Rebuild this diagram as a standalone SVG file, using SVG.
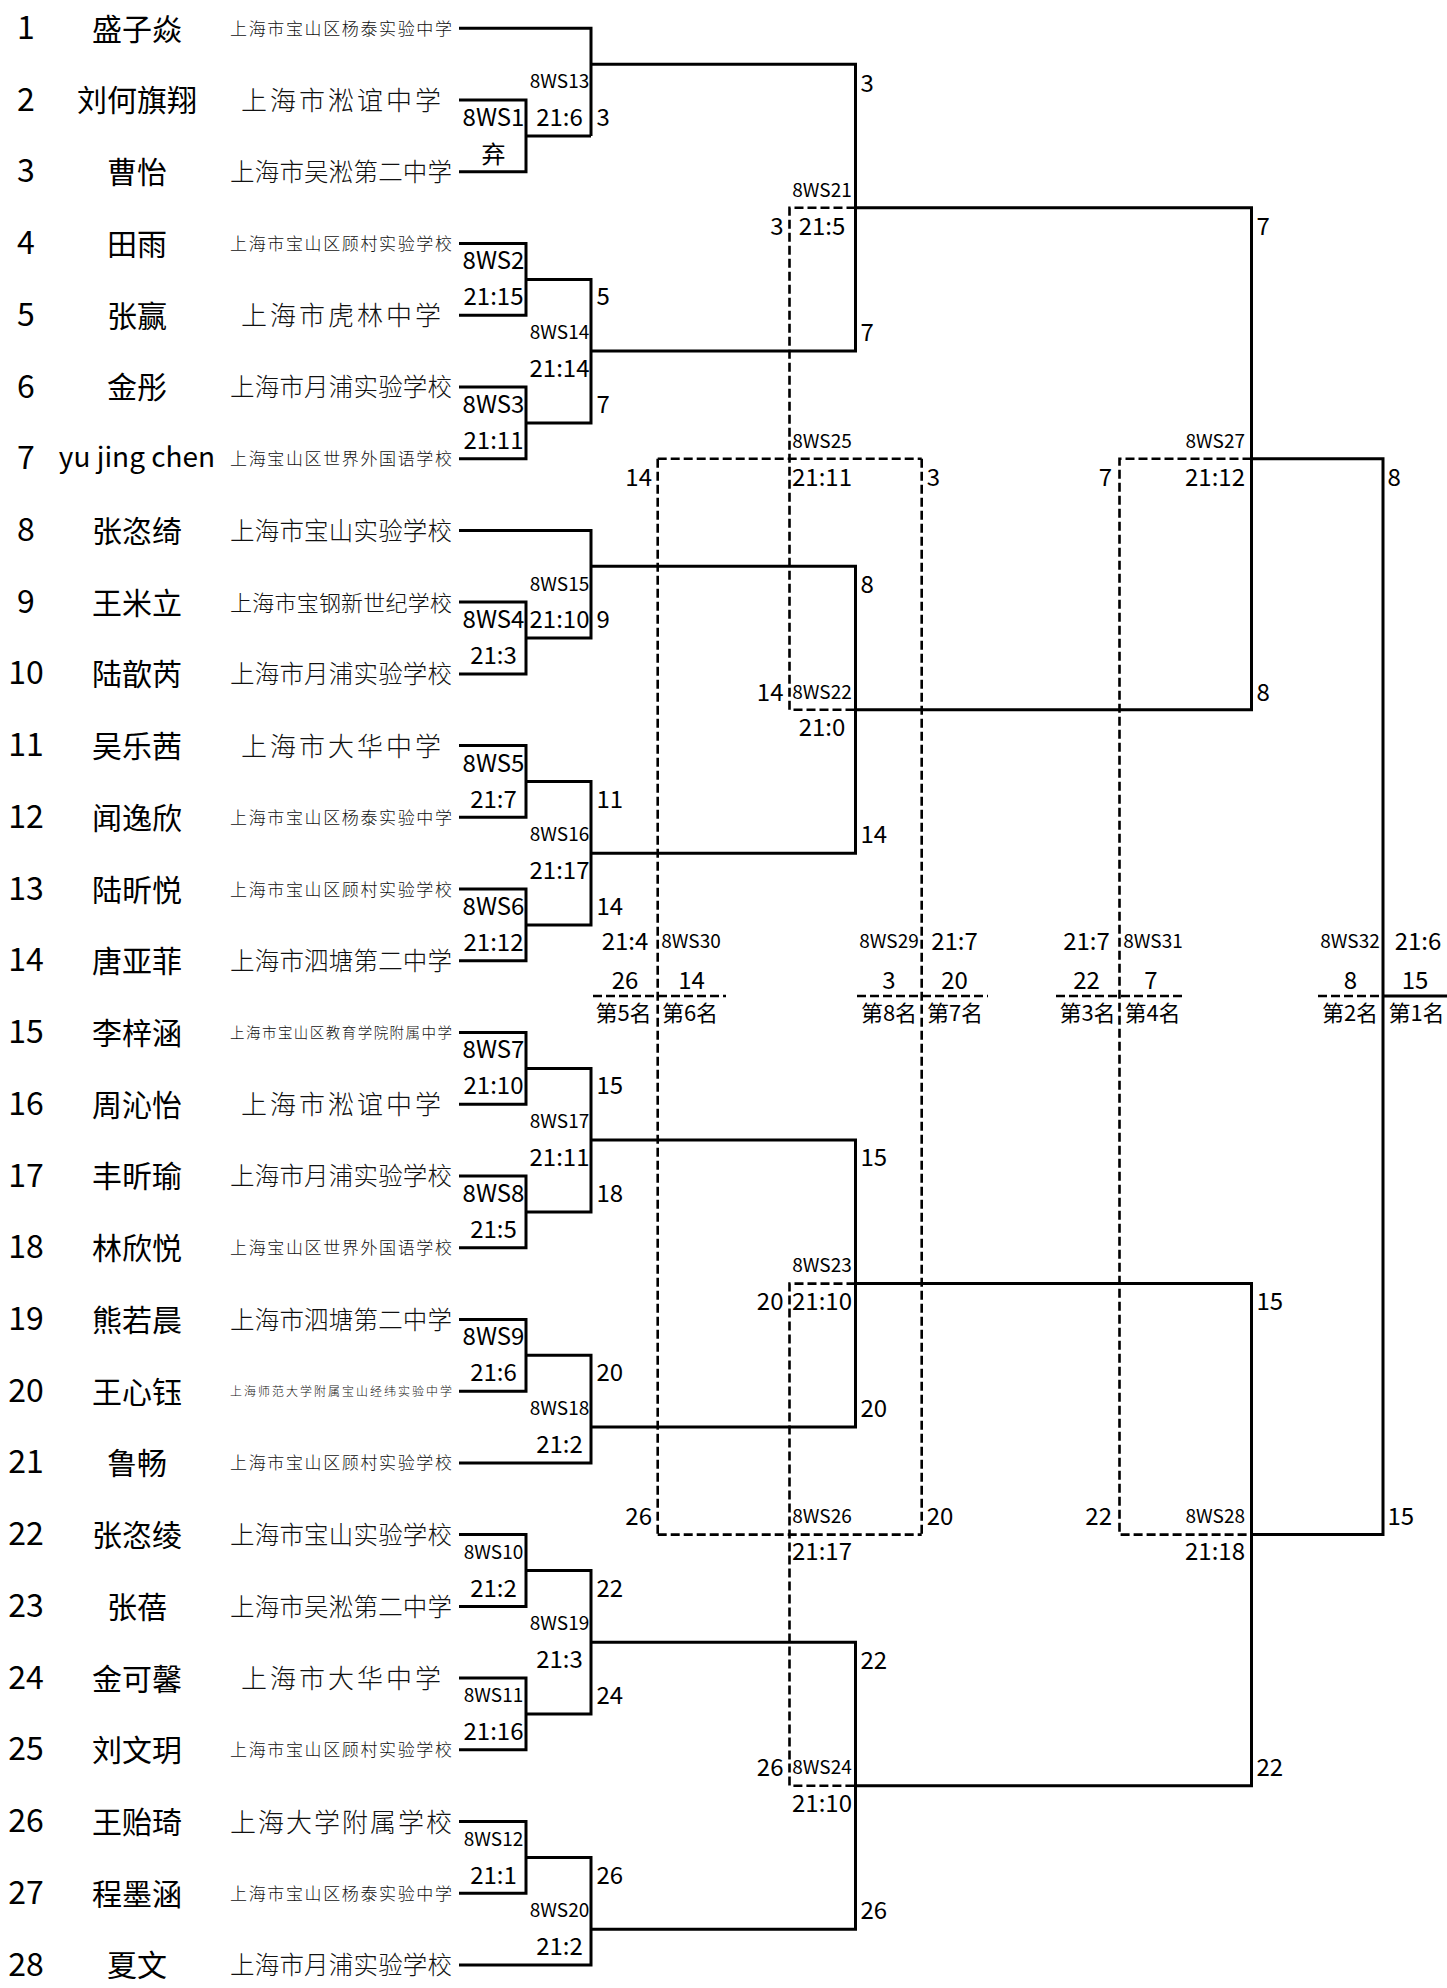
<svg xmlns="http://www.w3.org/2000/svg" width="1447" height="1988" viewBox="0 0 1447 1988">
<style>
text{font-family:"Noto Sans CJK SC","Noto Sans",sans-serif;fill:#000}
.idx{font-size:32px;text-anchor:middle}
.nm{font-size:30px;text-anchor:middle}
.lat{font-size:28px}
.s7,.s8,.s9,.s10,.s12,.s14,.s16{font-weight:300;fill:#111}
.s7{font-size:26px}.s8{font-size:26px}.s9{font-size:24.5px}.s10{font-size:22px}.s12{font-size:17px}.s14{font-size:14.5px}.s16{font-size:12px}
.lab{font-size:24px;text-anchor:middle}
.sm{font-size:19px;text-anchor:middle}
.sme{font-size:19px;text-anchor:end}
.le{font-size:24px;text-anchor:end}
.ws{font-size:24px;text-anchor:start}
.pl{font-size:22px;text-anchor:middle}
.ln{fill:none;stroke:#000;stroke-width:3}
.dl{fill:none;stroke:#000;stroke-width:2.6;stroke-dasharray:9 4}
</style>
<rect width="1447" height="1988" fill="#fff"/>
<g id="connectors">
<path class="ln" d="M459 28.3H591V135.9M459 100H526V171.8H459M526 135.9H591M591 64.2H855.5V351.1H591M459 243.5H526V315.2H459M526 279.4H591V422.9H526M459 387H526V458.7H459M855.5 207.7H1251.5V709.7H855.5"/>
<path class="ln" d="M459 530.4H591V638H526M459 602.1H526V673.9H459M591 566.3H855.5V853.2H591M459 745.6H526V817.3H459M526 781.5H591V925H526M459 889.1H526V960.8H459M1251.5 458.7H1383V1534.6H1251.5M1383 996H1447"/>
<path class="ln" d="M459 1032.5H526V1104.3H459M526 1068.4H591V1211.9H526M459 1176H526V1247.7H459M591 1140.1H855.5V1427H591M459 1319.4H526V1391.2H459M526 1355.3H591V1462.9H459M855.5 1283.6H1251.5V1785.7H855.5"/>
<path class="ln" d="M459 1534.6H526V1606.4H459M526 1570.5H591V1714H526M459 1678.1H526V1749.8H459M591 1642.2H855.5V1929.2H591M459 1821.6H526V1893.3H459M526 1857.5H591V1965H459"/>
<path class="dl" d="M855.5 207.7H789.5V709.7H855.5M855.5 1283.6H789.5V1785.7H855.5"/>
<path class="dl" d="M657.7 458.7H921.7M657.7 1534.6H921.7M657.7 458.7V1534.6M921.7 458.7V1534.6"/>
<path class="dl" d="M1251.5 458.7H1119.5V1534.6H1251.5"/>
<path class="dl" d="M593 996H726M857 996H988M1056 996H1186M1318 996H1383"/>
</g>
<g id="players">
<g id="p1"><text class="idx" x="26" y="38.8">1</text><text class="nm" x="137" y="39.7">盛子焱</text><text class="s12" x="230" y="34.8" textLength="222">上海市宝山区杨泰实验中学</text></g>
<g id="p2"><text class="idx" x="26" y="110.5">2</text><text class="nm" x="137" y="111.4">刘何旗翔</text><text class="s7" x="241" y="109.9" textLength="200">上海市淞谊中学</text></g>
<g id="p3"><text class="idx" x="26" y="182.3">3</text><text class="nm" x="137" y="183.2">曹怡</text><text class="s9" x="230" y="181.1" textLength="222">上海市吴淞第二中学</text></g>
<g id="p4"><text class="idx" x="26" y="254">4</text><text class="nm" x="137" y="254.9">田雨</text><text class="s12" x="230" y="250" textLength="222">上海市宝山区顾村实验学校</text></g>
<g id="p5"><text class="idx" x="26" y="325.7">5</text><text class="nm" x="137" y="326.6">张赢</text><text class="s7" x="241" y="325.1" textLength="200">上海市虎林中学</text></g>
<g id="p6"><text class="idx" x="26" y="397.5">6</text><text class="nm" x="137" y="398.4">金彤</text><text class="s9" x="230" y="396.3" textLength="222">上海市月浦实验学校</text></g>
<g id="p7"><text class="idx" x="26" y="469.2">7</text><text class="nm lat" x="137" y="466.5">yu jing chen</text><text class="s12" x="230" y="465.2" textLength="222">上海宝山区世界外国语学校</text></g>
<g id="p8"><text class="idx" x="26" y="540.9">8</text><text class="nm" x="137" y="541.8">张恣绮</text><text class="s9" x="230" y="539.7" textLength="222">上海市宝山实验学校</text></g>
<g id="p9"><text class="idx" x="26" y="612.6">9</text><text class="nm" x="137" y="613.5">王米立</text><text class="s10" x="230" y="610.5" textLength="222">上海市宝钢新世纪学校</text></g>
<g id="p10"><text class="idx" x="26" y="684.4">10</text><text class="nm" x="137" y="685.3">陆歆芮</text><text class="s9" x="230" y="683.2" textLength="222">上海市月浦实验学校</text></g>
<g id="p11"><text class="idx" x="26" y="756.1">11</text><text class="nm" x="137" y="757">吴乐茜</text><text class="s7" x="241" y="755.5" textLength="200">上海市大华中学</text></g>
<g id="p12"><text class="idx" x="26" y="827.8">12</text><text class="nm" x="137" y="828.7">闻逸欣</text><text class="s12" x="230" y="823.8" textLength="222">上海市宝山区杨泰实验中学</text></g>
<g id="p13"><text class="idx" x="26" y="899.6">13</text><text class="nm" x="137" y="900.5">陆昕悦</text><text class="s12" x="230" y="895.6" textLength="222">上海市宝山区顾村实验学校</text></g>
<g id="p14"><text class="idx" x="26" y="971.3">14</text><text class="nm" x="137" y="972.2">唐亚菲</text><text class="s9" x="230" y="970.1" textLength="222">上海市泗塘第二中学</text></g>
<g id="p15"><text class="idx" x="26" y="1043">15</text><text class="nm" x="137" y="1043.9">李梓涵</text><text class="s14" x="230" y="1038" textLength="222">上海市宝山区教育学院附属中学</text></g>
<g id="p16"><text class="idx" x="26" y="1114.8">16</text><text class="nm" x="137" y="1115.7">周沁怡</text><text class="s7" x="241" y="1114.2" textLength="200">上海市淞谊中学</text></g>
<g id="p17"><text class="idx" x="26" y="1186.5">17</text><text class="nm" x="137" y="1187.4">丰昕瑜</text><text class="s9" x="230" y="1185.3" textLength="222">上海市月浦实验学校</text></g>
<g id="p18"><text class="idx" x="26" y="1258.2">18</text><text class="nm" x="137" y="1259.1">林欣悦</text><text class="s12" x="230" y="1254.2" textLength="222">上海宝山区世界外国语学校</text></g>
<g id="p19"><text class="idx" x="26" y="1329.9">19</text><text class="nm" x="137" y="1330.8">熊若晨</text><text class="s9" x="230" y="1328.7" textLength="222">上海市泗塘第二中学</text></g>
<g id="p20"><text class="idx" x="26" y="1401.7">20</text><text class="nm" x="137" y="1402.6">王心钰</text><text class="s16" x="230" y="1395.8" textLength="222">上海师范大学附属宝山经纬实验中学</text></g>
<g id="p21"><text class="idx" x="26" y="1473.4">21</text><text class="nm" x="137" y="1474.3">鲁畅</text><text class="s12" x="230" y="1469.4" textLength="222">上海市宝山区顾村实验学校</text></g>
<g id="p22"><text class="idx" x="26" y="1545.1">22</text><text class="nm" x="137" y="1546">张恣绫</text><text class="s9" x="230" y="1543.9" textLength="222">上海市宝山实验学校</text></g>
<g id="p23"><text class="idx" x="26" y="1616.9">23</text><text class="nm" x="137" y="1617.8">张蓓</text><text class="s9" x="230" y="1615.7" textLength="222">上海市吴淞第二中学</text></g>
<g id="p24"><text class="idx" x="26" y="1688.6">24</text><text class="nm" x="137" y="1689.5">金可馨</text><text class="s7" x="241" y="1688" textLength="200">上海市大华中学</text></g>
<g id="p25"><text class="idx" x="26" y="1760.3">25</text><text class="nm" x="137" y="1761.2">刘文玥</text><text class="s12" x="230" y="1756.3" textLength="222">上海市宝山区顾村实验学校</text></g>
<g id="p26"><text class="idx" x="26" y="1832.1">26</text><text class="nm" x="137" y="1833">王贻琦</text><text class="s8" x="230" y="1831.5" textLength="222">上海大学附属学校</text></g>
<g id="p27"><text class="idx" x="26" y="1903.8">27</text><text class="nm" x="137" y="1904.7">程墨涵</text><text class="s12" x="230" y="1899.8" textLength="222">上海市宝山区杨泰实验中学</text></g>
<g id="p28"><text class="idx" x="26" y="1975.5">28</text><text class="nm" x="137" y="1976.4">夏文</text><text class="s9" x="230" y="1974.3" textLength="222">上海市月浦实验学校</text></g>
</g>
<g id="matches-r1">
<g id="m1"><text class="lab" x="493.5" y="125.9">8WS1</text><text class="lab" x="493.5" y="163">弃</text></g>
<g id="m2"><text class="lab" x="493.5" y="269.4">8WS2</text><text class="lab" x="493.5" y="305.4">21:15</text></g>
<g id="m3"><text class="lab" x="493.5" y="412.9">8WS3</text><text class="lab" x="493.5" y="448.9">21:11</text></g>
<g id="m4"><text class="lab" x="493.5" y="628">8WS4</text><text class="lab" x="493.5" y="664">21:3</text></g>
<g id="m5"><text class="lab" x="493.5" y="771.5">8WS5</text><text class="lab" x="493.5" y="807.5">21:7</text></g>
<g id="m6"><text class="lab" x="493.5" y="915">8WS6</text><text class="lab" x="493.5" y="951">21:12</text></g>
<g id="m7"><text class="lab" x="493.5" y="1058.4">8WS7</text><text class="lab" x="493.5" y="1094.4">21:10</text></g>
<g id="m8"><text class="lab" x="493.5" y="1201.9">8WS8</text><text class="lab" x="493.5" y="1237.9">21:5</text></g>
<g id="m9"><text class="lab" x="493.5" y="1345.3">8WS9</text><text class="lab" x="493.5" y="1381.3">21:6</text></g>
<g id="m10"><text class="sm" x="493.5" y="1558.7">8WS10</text><text class="lab" x="493.5" y="1596.5">21:2</text></g>
<g id="m11"><text class="sm" x="493.5" y="1702.2">8WS11</text><text class="lab" x="493.5" y="1740">21:16</text></g>
<g id="m12"><text class="sm" x="493.5" y="1845.7">8WS12</text><text class="lab" x="493.5" y="1883.5">21:1</text></g>
</g>
<g id="matches-r2">
<g id="m13"><text class="sm" x="559.5" y="88.4">8WS13</text><text class="lab" x="559.5" y="126">21:6</text><text class="ws" x="596.5" y="126">3</text></g>
<g id="m14"><text class="sm" x="559.5" y="339.3">8WS14</text><text class="lab" x="559.5" y="377.1">21:14</text><text class="ws" x="596.5" y="305.4">5</text><text class="ws" x="596.5" y="412.9">7</text></g>
<g id="m15"><text class="sm" x="559.5" y="591.2">8WS15</text><text class="lab" x="559.5" y="628">21:10</text><text class="ws" x="596.5" y="628">9</text></g>
<g id="m16"><text class="sm" x="559.5" y="841.4">8WS16</text><text class="lab" x="559.5" y="879.2">21:17</text><text class="ws" x="596.5" y="807.5">11</text><text class="ws" x="596.5" y="915">14</text></g>
<g id="m17"><text class="sm" x="559.5" y="1128.3">8WS17</text><text class="lab" x="559.5" y="1166.1">21:11</text><text class="ws" x="596.5" y="1094.4">15</text><text class="ws" x="596.5" y="1201.9">18</text></g>
<g id="m18"><text class="sm" x="559.5" y="1415.2">8WS18</text><text class="lab" x="559.5" y="1453">21:2</text><text class="ws" x="596.5" y="1381.3">20</text></g>
<g id="m19"><text class="sm" x="559.5" y="1630.4">8WS19</text><text class="lab" x="559.5" y="1668.2">21:3</text><text class="ws" x="596.5" y="1596.5">22</text><text class="ws" x="596.5" y="1704">24</text></g>
<g id="m20"><text class="sm" x="559.5" y="1917.4">8WS20</text><text class="lab" x="559.5" y="1955.2">21:2</text><text class="ws" x="596.5" y="1883.5">26</text></g>
</g>
<g id="matches-r3">
<g id="m21"><text class="sm" x="822" y="196.9">8WS21</text><text class="lab" x="822" y="235">21:5</text><text class="le" x="783.5" y="235">3</text><text class="ws" x="860.5" y="91.5">3</text><text class="ws" x="860.5" y="341.1">7</text></g>
<g id="m22"><text class="sm" x="822" y="698.9">8WS22</text><text class="lab" x="822" y="736">21:0</text><text class="le" x="783.5" y="700.7">14</text><text class="ws" x="860.5" y="593">8</text><text class="ws" x="860.5" y="843.2">14</text></g>
<g id="m23"><text class="sm" x="822" y="1271.8">8WS23</text><text class="lab" x="822" y="1310">21:10</text><text class="le" x="783.5" y="1310">20</text><text class="ws" x="860.5" y="1166.1">15</text><text class="ws" x="860.5" y="1417">20</text></g>
<g id="m24"><text class="sm" x="822" y="1773.9">8WS24</text><text class="lab" x="822" y="1811.7">21:10</text><text class="le" x="783.5" y="1775.7">26</text><text class="ws" x="860.5" y="1668.7">22</text><text class="ws" x="860.5" y="1919.2">26</text></g>
<g id="m25"><text class="sm" x="822" y="448.2">8WS25</text><text class="lab" x="822" y="485.7">21:11</text><text class="le" x="652" y="485.7">14</text><text class="ws" x="926.7" y="485.7">3</text></g>
<g id="m26"><text class="sm" x="822" y="1522.8">8WS26</text><text class="lab" x="822" y="1560">21:17</text><text class="le" x="652" y="1524.6">26</text><text class="ws" x="926.7" y="1524.6">20</text></g>
</g>
<g id="matches-r4">
<g id="m27"><text class="sme" x="1245" y="448.2">8WS27</text><text class="le" x="1245" y="485.7">21:12</text><text class="le" x="1112" y="485.7">7</text><text class="ws" x="1387.5" y="485.7">8</text><text class="ws" x="1256.5" y="235">7</text><text class="ws" x="1256.5" y="700.7">8</text></g>
<g id="m28"><text class="sme" x="1245" y="1522.8">8WS28</text><text class="le" x="1245" y="1560">21:18</text><text class="le" x="1112" y="1524.6">22</text><text class="ws" x="1387.5" y="1524.6">15</text><text class="ws" x="1256.5" y="1310">15</text><text class="ws" x="1256.5" y="1775.7">22</text></g>
</g>
<g id="placings">
<g id="m30"><text class="lab" x="625" y="950">21:4</text><text class="sm" x="691" y="948.2">8WS30</text><text class="lab" x="625" y="988.5">26</text><text class="lab" x="691.5" y="988.5">14</text><text class="pl" x="623.5" y="1021.4">第5名</text><text class="pl" x="690" y="1021.4">第6名</text></g>
<g id="m29"><text class="sm" x="889" y="948.2">8WS29</text><text class="lab" x="954.5" y="950">21:7</text><text class="lab" x="889" y="988.5">3</text><text class="lab" x="954.5" y="988.5">20</text><text class="pl" x="889" y="1021.4">第8名</text><text class="pl" x="955" y="1021.4">第7名</text></g>
<g id="m31"><text class="lab" x="1086.5" y="950">21:7</text><text class="sm" x="1153" y="948.2">8WS31</text><text class="lab" x="1086.5" y="988.5">22</text><text class="lab" x="1151" y="988.5">7</text><text class="pl" x="1087.5" y="1021.4">第3名</text><text class="pl" x="1152.5" y="1021.4">第4名</text></g>
<g id="m32"><text class="sm" x="1350" y="948.2">8WS32</text><text class="lab" x="1418" y="950">21:6</text><text class="lab" x="1350.5" y="988.5">8</text><text class="lab" x="1415" y="988.5">15</text><text class="pl" x="1350" y="1021.4">第2名</text><text class="pl" x="1416.5" y="1021.4">第1名</text></g>
</g>
</svg>
